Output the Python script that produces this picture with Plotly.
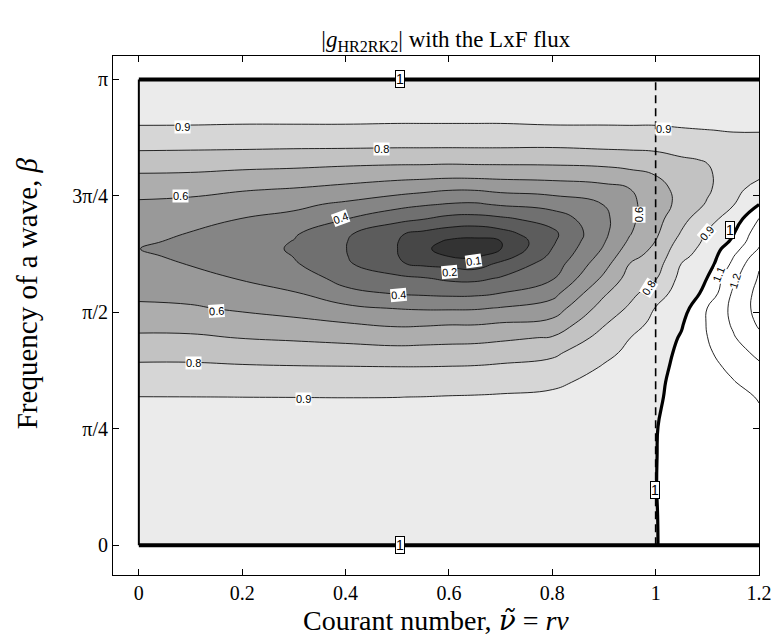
import numpy as np
import plotly.graph_objects as go

# ---- data ----
nu_cols = [0.0, 0.1, 0.2, 0.3, 0.4, 0.5, 0.55, 0.6, 0.65, 0.7, 0.8, 0.9, 0.95, 1.0, 1.05, 1.1, 1.15, 1.2]
beta_rows = [0.0, 0.2, 0.4, 0.6, 0.8, 1.0, 1.1, 1.2, 1.3, 1.4, 1.5, 1.6, 1.7, 1.8, 1.9, 1.95,
             2.0, 2.05, 2.1, 2.2, 2.3, 2.4, 2.5, 2.6, 2.7, 2.8, 2.9, 3.0, np.pi]

# |g| estimated along each Courant-number column (one list per nu, bottom to top in beta)
g_by_column = [
    [0.9999, 0.995, 0.985, 0.965, 0.94, 0.901, 0.858, 0.817, 0.768, 0.716, 0.665, 0.615, 0.581, 0.554, 0.527, 0.514, 0.501, 0.515, 0.529, 0.557, 0.586, 0.631, 0.694, 0.76, 0.825, 0.888, 0.925, 0.956, 0.9999],
    [0.9999, 0.995, 0.985, 0.965, 0.94, 0.9005, 0.858, 0.817, 0.768, 0.714, 0.662, 0.61, 0.569, 0.531, 0.495, 0.482, 0.47, 0.482, 0.495, 0.533, 0.575, 0.626, 0.69, 0.757, 0.823, 0.887, 0.925, 0.956, 0.9999],
    [0.9999, 0.995, 0.985, 0.965, 0.94, 0.8998, 0.856, 0.811, 0.756, 0.697, 0.64, 0.586, 0.538, 0.494, 0.462, 0.446, 0.43, 0.447, 0.465, 0.497, 0.55, 0.607, 0.676, 0.75, 0.822, 0.884, 0.924, 0.955, 0.9999],
    [0.9999, 0.995, 0.985, 0.965, 0.94, 0.8995, 0.853, 0.807, 0.748, 0.687, 0.623, 0.563, 0.506, 0.467, 0.41, 0.398, 0.393, 0.397, 0.41, 0.473, 0.521, 0.593, 0.667, 0.744, 0.819, 0.884, 0.924, 0.955, 0.9999],
    [0.9999, 0.995, 0.985, 0.965, 0.94, 0.899, 0.851, 0.805, 0.742, 0.674, 0.601, 0.523, 0.43, 0.36, 0.315, 0.305, 0.302, 0.304, 0.315, 0.401, 0.483, 0.570, 0.652, 0.736, 0.819, 0.884, 0.924, 0.955, 0.9999],
    [0.9999, 0.995, 0.985, 0.965, 0.94, 0.8995, 0.849, 0.803, 0.734, 0.66, 0.579, 0.495, 0.393, 0.327, 0.21, 0.203, 0.201, 0.203, 0.21, 0.33, 0.433, 0.54, 0.638, 0.732, 0.816, 0.881, 0.923, 0.955, 0.9999],
    [0.9999, 0.995, 0.986, 0.967, 0.942, 0.901, 0.852, 0.803, 0.737, 0.664, 0.582, 0.489, 0.385, 0.308, 0.18, 0.15, 0.12, 0.14, 0.175, 0.302, 0.411, 0.524, 0.635, 0.732, 0.816, 0.881, 0.923, 0.955, 0.9999],
    [0.9999, 0.996, 0.986, 0.968, 0.944, 0.904, 0.858, 0.805, 0.74, 0.669, 0.589, 0.488, 0.378, 0.283, 0.17, 0.097, 0.06, 0.085, 0.145, 0.269, 0.394, 0.507, 0.63, 0.729, 0.816, 0.881, 0.923, 0.955, 0.9999],
    [0.9999, 0.996, 0.987, 0.969, 0.946, 0.906, 0.861, 0.808, 0.743, 0.672, 0.589, 0.49, 0.38, 0.278, 0.15, 0.085, 0.04, 0.075, 0.129, 0.263, 0.388, 0.507, 0.632, 0.732, 0.816, 0.881, 0.923, 0.955, 0.9999],
    [0.9999, 0.996, 0.987, 0.970, 0.947, 0.909, 0.868, 0.816, 0.753, 0.683, 0.601, 0.505, 0.401, 0.309, 0.218, 0.15, 0.097, 0.099, 0.16, 0.28, 0.411, 0.524, 0.635, 0.732, 0.816, 0.881, 0.923, 0.955, 0.9999],
    [0.9999, 0.996, 0.988, 0.972, 0.95, 0.915, 0.885, 0.835, 0.779, 0.707, 0.625, 0.546, 0.467, 0.391, 0.345, 0.32, 0.302, 0.285, 0.275, 0.34, 0.44, 0.54, 0.64, 0.733, 0.814, 0.887, 0.924, 0.956, 0.9999],
    [0.9999, 0.997, 0.99, 0.978, 0.96, 0.94, 0.925, 0.908, 0.878, 0.835, 0.79, 0.74, 0.687, 0.62, 0.563, 0.535, 0.51, 0.493, 0.48, 0.475, 0.502, 0.567, 0.65, 0.743, 0.823, 0.887, 0.925, 0.956, 0.9999],
    [0.9999, 0.998, 0.994, 0.986, 0.975, 0.96, 0.95, 0.935, 0.917, 0.899, 0.857, 0.813, 0.774, 0.737, 0.701, 0.67, 0.641, 0.615, 0.595, 0.578, 0.578, 0.597, 0.672, 0.752, 0.825, 0.888, 0.925, 0.956, 0.9999],
    [0.9999, 0.9995, 0.9995, 0.999, 0.998, 0.99, 0.985, 0.975, 0.96, 0.945, 0.925, 0.904, 0.85, 0.793, 0.756, 0.737, 0.719, 0.702, 0.685, 0.665, 0.65, 0.67, 0.702, 0.765, 0.827, 0.888, 0.925, 0.956, 0.9999],
    [1.001, 1.006, 1.012, 1.017, 1.02, 1.023, 1.024, 1.023, 1.02, 1.009, 0.99, 0.955, 0.95, 0.93, 0.901, 0.88, 0.86, 0.835, 0.81, 0.77, 0.73, 0.725, 0.75, 0.79, 0.84, 0.895, 0.925, 0.955, 0.9999],
    [1.001, 1.012, 1.025, 1.035, 1.045, 1.052, 1.058, 1.071, 1.085, 1.099, 1.106, 1.101, 1.021, 1.002, 0.955, 0.94, 0.93, 0.92, 0.91, 0.87, 0.81, 0.785, 0.785, 0.805, 0.85, 0.899, 0.93, 0.958, 0.9999],
    [1.001, 1.015, 1.03, 1.045, 1.06, 1.075, 1.095, 1.12, 1.155, 1.19, 1.215, 1.225, 1.215, 1.175, 1.12, 1.095, 1.06, 1.015, 0.995, 0.94, 0.895, 0.87, 0.855, 0.86, 0.88, 0.903, 0.932, 0.96, 0.9999],
    [1.001, 1.02, 1.04, 1.06, 1.08, 1.105, 1.14, 1.18, 1.225, 1.28, 1.315, 1.335, 1.33, 1.31, 1.29, 1.25, 1.205, 1.183, 1.16, 1.105, 0.998, 0.94, 0.88, 0.862, 0.87, 0.905, 0.935, 0.962, 0.9999],
]

x_tick_vals = [0, 0.2, 0.4, 0.6, 0.8, 1.0, 1.2]
x_tick_text = ["0", "0.2", "0.4", "0.6", "0.8", "1", "1.2"]
y_tick_vals = [0, np.pi / 4, np.pi / 2, 3 * np.pi / 4, np.pi]
y_tick_text = ["0", "π/4", "π/2", "3π/4", "π"]

# contour label placements (text, nu, beta, angle, boxed)
contour_label_spots = [
    ("0.9", 0.085, 2.82, 0, False),
    ("0.8", 0.47, 2.676, 0, False),
    ("0.6", 0.08, 2.356, 0, False),
    ("0.4", 0.391, 2.21, -20, False),
    ("0.1", 0.647, 1.92, -8, False),
    ("0.2", 0.602, 1.845, -5, False),
    ("0.4", 0.502, 1.69, -5, False),
    ("0.6", 0.151, 1.582, -4, False),
    ("0.8", 0.105, 1.232, 0, False),
    ("0.9", 0.319, 0.986, 0, False),
    ("0.9", 1.015, 2.807, 0, False),
    ("0.6", 0.968, 2.227, -90, False),
    ("0.8", 0.986, 1.737, -58, False),
    ("0.9", 1.099, 2.108, -50, False),
    ("1.1", 1.121, 1.826, -68, False),
    ("1.2", 1.154, 1.78, -72, False),
    ("1", 0.505, np.pi, 0, True),
    ("1", 0.505, 0.0, 0, True),
    ("1", 0.999, 0.37, 0, True),
    ("1", 1.143, 2.124, 0, True),
]

# ---- styling ----
band_colors = ['#333333', '#474747', '#5c5c5c', '#707070', '#858585', '#999999',
               '#adadad', '#c2c2c2', '#d6d6d6', '#ebebeb',
               '#ffffff', '#ffffff', '#ffffff', '#ffffff']
nb = len(band_colors) - 1
colorscale = []
for k, c in enumerate(band_colors):
    lo = max(0.0, (k - 0.5) / nb)
    hi = min(1.0, (k + 0.5) / nb)
    colorscale.append([lo, c])
    colorscale.append([hi, c])

z = np.array(g_by_column).T

serif = "Liberation Serif"
sans = "Liberation Sans"

fig = go.Figure()
fig.add_trace(go.Contour(
    x=nu_cols, y=beta_rows, z=z,
    contours=dict(start=0.1, end=1.3, size=0.1, coloring='fill', showlines=True),
    colorscale=colorscale, zmin=0.05, zmax=1.35, zauto=False,
    line=dict(color='#111111', width=0.9, smoothing=1.3),
    showscale=False, hoverinfo='skip'))
fig.add_trace(go.Contour(
    x=nu_cols, y=beta_rows, z=z,
    contours=dict(start=1.0, end=1.0, size=0.1, coloring='none'),
    line=dict(color='black', width=3.2, smoothing=1.3),
    showscale=False, hoverinfo='skip'))

shapes = [
    dict(type='line', xref='x', yref='y', x0=nu_cols[0], x1=nu_cols[-1], y0=beta_rows[0], y1=beta_rows[0],
         line=dict(color='black', width=4)),
    dict(type='line', xref='x', yref='y', x0=nu_cols[0], x1=nu_cols[-1], y0=beta_rows[-1], y1=beta_rows[-1],
         line=dict(color='black', width=4)),
    dict(type='line', xref='x', yref='y', x0=nu_cols[0], x1=nu_cols[0], y0=beta_rows[0], y1=beta_rows[-1],
         line=dict(color='black', width=2)),
    dict(type='line', xref='x', yref='y', x0=1.0, x1=1.0, y0=beta_rows[0], y1=beta_rows[-1],
         line=dict(color='black', width=1.6, dash='8px,5px')),
]

annotations = []
for txt, xv, yv, ang, boxed in contour_label_spots:
    if boxed:
        annotations.append(dict(x=xv, y=yv, xref='x', yref='y', text=txt, showarrow=False,
                                font=dict(family=sans, size=14, color='black'),
                                bgcolor='white', bordercolor='black', borderwidth=1, borderpad=0))
    else:
        annotations.append(dict(x=xv, y=yv, xref='x', yref='y', text=txt, showarrow=False,
                                textangle=ang, font=dict(family=sans, size=11, color='black'),
                                bgcolor='white', borderpad=0))

annotations.append(dict(x=0.5, y=-0.087, xref='paper', yref='paper', yanchor='middle',
                        text="Courant number, <span style=\"font-family:DejaVu Serif\"><i>ν̃</i></span> = <i>rν</i>",
                        showarrow=False,
                        font=dict(family=serif, size=28, color='black')))
annotations.append(dict(x=-0.133, y=0.543, xref='paper', yref='paper', textangle=-90,
                        xanchor='center', yanchor='middle',
                        text="Frequency of a wave, <i>β</i>", showarrow=False,
                        font=dict(family=serif, size=29, color='black')))

axis_common = dict(ticks='inside', ticklen=6, tickcolor='black', showline=True, linecolor='black',
                   linewidth=1, mirror='ticks', showgrid=False, zeroline=False, automargin=False,
                   tickfont=dict(family=serif, size=20, color='black'))

fig.update_layout(
    width=774, height=638,
    margin=dict(l=113, r=15, t=56, b=63),
    paper_bgcolor='white', plot_bgcolor='white',
    title=dict(text="|<i>g</i><sub>HR2RK2</sub>| with the LxF flux", x=0.576, xref='container',
               y=1 - 39 / 638, yref='container', xanchor='center', yanchor='middle',
               font=dict(family=serif, size=23, color='black')),
    xaxis=dict(range=[-0.05, 1.2], tickvals=x_tick_vals, ticktext=x_tick_text, **axis_common),
    yaxis=dict(range=[-0.2, 3.3], tickvals=y_tick_vals, ticktext=y_tick_text, **axis_common),
    shapes=shapes, annotations=annotations, showlegend=False,
)

fig.write_html("out.html", config={'displayModeBar': False},
               post_script="document.body.style.margin='0px';document.body.style.padding='0px';"
                           "document.body.style.overflow='hidden';")
